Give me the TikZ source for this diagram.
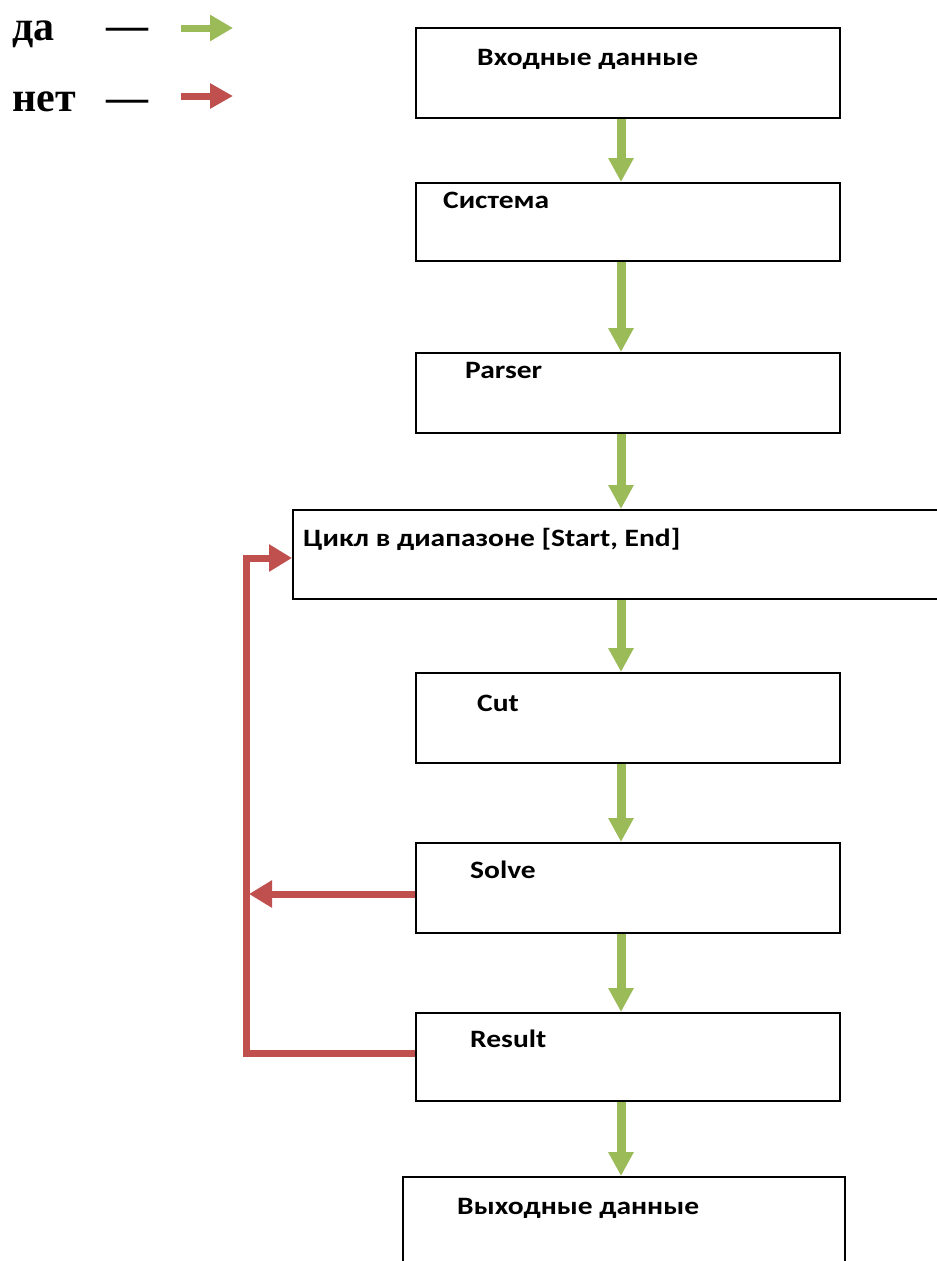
\documentclass[tikz,border=0pt]{standalone}
\usepackage{fontspec}
\usepackage{graphicx}
\setmainfont{Carlito}
\newfontfamily\legfont{Liberation Serif}
\usetikzlibrary{arrows.meta}
\definecolor{yesgreen}{HTML}{9BBB59}
\definecolor{nored}{HTML}{C0504D}
\newcommand{\wtxt}[1]{\scalebox{1.18}[1]{#1}}
\tikzset{
  box/.style={draw=black, line width=1.5pt, rectangle, inner sep=0pt, anchor=north west},
  lbl/.style={anchor=base west, inner sep=0pt, font=\bfseries\fontsize{25}{29}\selectfont},
  leg/.style={anchor=base west, inner sep=0pt, font=\legfont\bfseries\fontsize{42}{48}\selectfont},
  garrow/.style={draw=yesgreen, line width=9pt, -{Triangle[length=24pt,width=24pt]}},
  rarrow/.style={draw=nored, line width=7pt, line join=miter, -{Triangle[length=23pt,width=26pt]}},
}
\begin{document}
\begin{tikzpicture}[x=1pt,y=-1pt]
\useasboundingbox (0,0) rectangle (937,1261);
\clip (0,0) rectangle (937,1261);
% boxes
\node[box, minimum width=424pt, minimum height=90pt] (b1) at (415,27) {};
\node[box, minimum width=424pt, minimum height=78pt] (b2) at (415,182) {};
\node[box, minimum width=424pt, minimum height=80pt] (b3) at (415,352) {};
\node[box, minimum width=660pt, minimum height=89pt] (b4) at (292,509) {};
\node[box, minimum width=424pt, minimum height=90pt] (b5) at (415,672) {};
\node[box, minimum width=424pt, minimum height=90pt] (b6) at (415,842) {};
\node[box, minimum width=424pt, minimum height=88pt] (b7) at (415,1012) {};
\node[box, minimum width=442pt, minimum height=120pt] (b8) at (402,1176) {};
% texts
\node[lbl] (t1) at (477,65) {\wtxt{Входные данные}};
\node[lbl] (t2) at (443,208) {\wtxt{Система}};
\node[lbl] (t3) at (465,378) {\wtxt{Parser}};
\node[lbl] (t4) at (303,546) {\wtxt{Цикл в диапазоне [Start, End]}};
\node[lbl] (t5) at (477,711) {\wtxt{Cut}};
\node[lbl] (t6) at (470,878) {\wtxt{Solve}};
\node[lbl] (t7) at (470,1047) {\wtxt{Result}};
\node[lbl] (t8) at (457,1214) {\wtxt{Выходные данные}};
% green arrows
\coordinate (ax) at (621,0);
\draw[garrow] (b1.south -| ax) -- (b2.north -| ax);
\draw[garrow] (b2.south -| ax) -- (b3.north -| ax);
\draw[garrow] (b3.south -| ax) -- (b4.north -| ax);
\draw[garrow] (b4.south -| ax) -- (b5.north -| ax);
\draw[garrow] (b5.south -| ax) -- (b6.north -| ax);
\draw[garrow] (b6.south -| ax) -- (b7.north -| ax);
\draw[garrow] (b7.south -| ax) -- (b8.north -| ax);
% red loop
\coordinate (r1) at (246,1053);
\coordinate (r2) at (246,558);
\coordinate (s1) at (249,894);
\draw[rarrow] (b7.west |- r1) -- (r1) -- (r2) -- (b4.west |- r2);
\draw[rarrow] (b6.west |- s1) -- (s1);
% legend
\node[leg] (ly) at (12,40) {да};
\node[leg] (ln) at (12,111) {нет};
\node[leg] (dy) at (106,39) {—};
\node[leg] (dn) at (106,111) {—};
\coordinate (gy0) at (181,28);
\coordinate (gy1) at (233,28);
\coordinate (rn0) at (181,96);
\coordinate (rn1) at (233,96);
\draw[draw=yesgreen, line width=7pt, -{Triangle[length=23pt,width=25pt]}] (gy0) -- (gy1);
\draw[draw=nored, line width=7pt, -{Triangle[length=23pt,width=24pt]}] (rn0) -- (rn1);
\end{tikzpicture}
\end{document}
